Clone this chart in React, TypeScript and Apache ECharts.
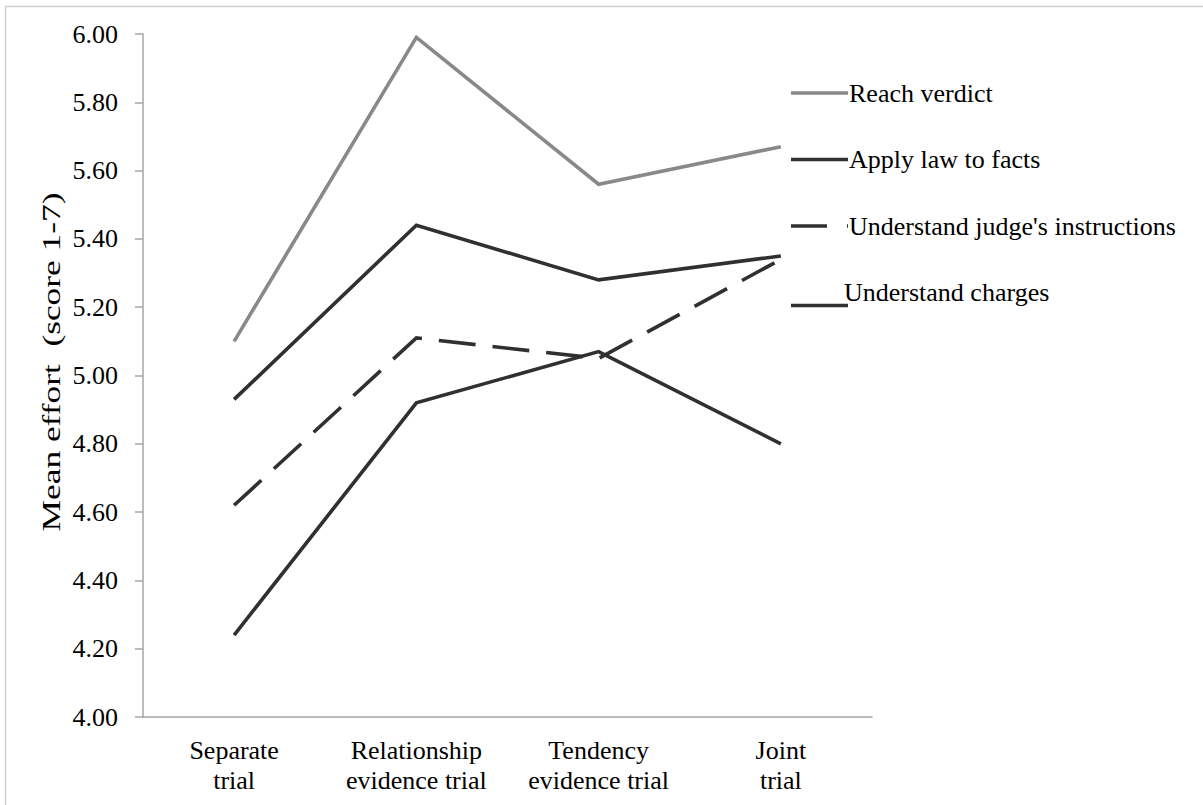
import React, { useEffect, useRef } from "react";
import * as echarts from "echarts";

const categories = ["Separate\ntrial", "Relationship\nevidence trial", "Tendency\nevidence trial", "Joint\ntrial"];
const reachVerdict = [5.10, 5.99, 5.56, 5.67];
const applyLaw = [4.93, 5.44, 5.28, 5.35];
const judgeInstructions = [4.62, 5.11, 5.05, 5.34];
const understandCharges = [4.24, 4.92, 5.07, 4.80];
const seriesNames = ["Reach verdict", "Apply law to facts", "Understand judge's instructions", "Understand charges"];
const yAxisName = "Mean effort  (score 1-7)";

const FONT = "'Liberation Serif', 'Times New Roman', serif";
const AXFONT = "serif";

const corner = "M0,0h0.01v0.01h-0.01z M56.99,29.99h0.01v0.01h-0.01z";
const iconSolid = "path://" + corner + " M0,13.2h57v3.6h-57z";
const iconDashed = "path://" + corner + " M0,13.2h36v3.6h-36z M56,13.2h1v3.6h-1z";
const iconLow = "path://" + corner + " M0,26.2h57v3.6h-57z";

export default function App() {
  const ref = useRef<HTMLDivElement>(null);
  useEffect(() => {
    const chart = echarts.init(ref.current!, null, { renderer: "svg" });
    const dark = "#303030";
    const gray = "#898989";
    const mk = (name: string, data: number[], color: string, dashed = false) => ({
      name,
      type: "line",
      data,
      symbol: "none",
      lineStyle: { color, width: 3.6, type: dashed ? [37, 17] : "solid", cap: "butt", join: "miter" },
      itemStyle: { color },
    });
    chart.setOption({
      animation: false,
      backgroundColor: "#ffffff",
      textStyle: { fontFamily: FONT },
      grid: { left: 143, top: 34, right: 331, bottom: 88, containLabel: false },
      legend: {
        orient: "vertical",
        left: 786,
        top: 73,
        itemWidth: 57,
        itemHeight: 30,
        itemGap: 36.5,
        data: [
          { name: seriesNames[0], icon: iconSolid },
          { name: seriesNames[1], icon: iconSolid },
          { name: seriesNames[2], icon: iconDashed },
          { name: seriesNames[3], icon: iconLow, textStyle: { padding: [0, 0, 0, -9] } },
        ],
        textStyle: { fontFamily: FONT, fontSize: 26, color: "#000", padding: [0, 0, 0, -4] },
      },
      xAxis: {
        type: "category",
        data: categories,
        boundaryGap: true,
        axisLine: { lineStyle: { color: "#a6a6a6", width: 1.5 } },
        axisTick: { show: false },
        axisLabel: {
          fontFamily: AXFONT,
          fontSize: 26,
          fontWeight: "normal",
          fontStyle: "normal",
          color: "#000",
          lineHeight: 30,
          margin: 18,
          interval: 0,
        },
      },
      yAxis: {
        type: "value",
        min: 4,
        max: 6,
        interval: 0.2,
        axisLine: { show: true, lineStyle: { color: "#a6a6a6", width: 1.5 } },
        axisTick: { show: true, length: 8, lineStyle: { color: "#a6a6a6", width: 1.5 } },
        splitLine: { show: false },
        axisLabel: {
          fontFamily: AXFONT,
          fontSize: 26,
          fontWeight: "normal",
          fontStyle: "normal",
          color: "#000",
          margin: 25,
          formatter: (v: number) => v.toFixed(2),
        },
      },
      graphic: [
        { type: "line", shape: { x1: 5, y1: 6.5, x2: 1203, y2: 6.5 }, style: { stroke: "#d0d0d0", lineWidth: 1.5 } },
        { type: "line", shape: { x1: 5.5, y1: 6, x2: 5.5, y2: 805 }, style: { stroke: "#d0d0d0", lineWidth: 1.5 } },
        {
          type: "text",
          x: 51,
          y: 362,
          rotation: Math.PI / 2,
          scaleX: 1.36,
          style: {
            text: yAxisName,
            font: `26px ${FONT}`,
            fill: "#000",
            align: "center",
            verticalAlign: "middle",
          },
        },
      ],
      series: [
        mk(seriesNames[0], reachVerdict, gray),
        mk(seriesNames[1], applyLaw, dark),
        mk(seriesNames[2], judgeInstructions, dark, true),
        mk(seriesNames[3], understandCharges, dark),
      ],
    });
    return () => chart.dispose();
  }, []);
  return (
    <>
      <style>{`#chart-box svg text, #chart-box svg tspan { font-family: 'Liberation Serif', 'Times New Roman', serif !important; }`}</style>
      <div id="chart-box" ref={ref} style={{ position: "absolute", left: 0, top: 0, width: 1203, height: 805 }} />
    </>
  );
}
